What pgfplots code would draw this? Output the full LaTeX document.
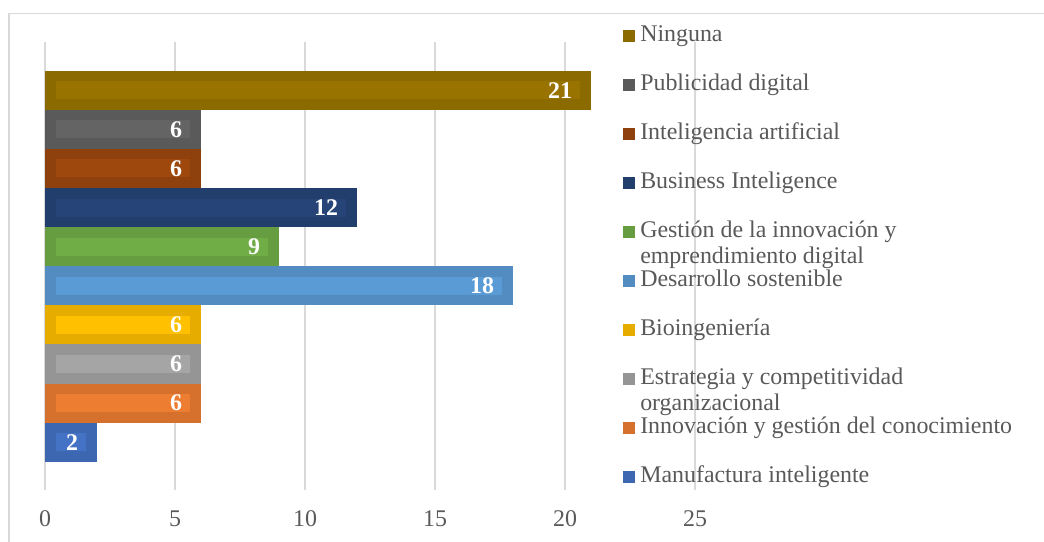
\documentclass[border=0pt]{standalone}
\usepackage{fontspec}
\setmainfont{Liberation Serif}
\usepackage{pgfplots}
\pgfplotsset{compat=1.18}

\definecolor{gridc}{HTML}{D9D9D9}
\definecolor{txt}{HTML}{595959}
\definecolor{oNin}{HTML}{8B6B00}\definecolor{iNin}{HTML}{997300}
\definecolor{oPub}{HTML}{5A5A5A}\definecolor{iPub}{HTML}{646464}
\definecolor{oInt}{HTML}{8F410D}\definecolor{iInt}{HTML}{9E480E}
\definecolor{oBus}{HTML}{223E6D}\definecolor{iBus}{HTML}{264478}
\definecolor{oGes}{HTML}{659D40}\definecolor{iGes}{HTML}{70AD47}
\definecolor{oDes}{HTML}{528CC1}\definecolor{iDes}{HTML}{5B9BD5}
\definecolor{oBio}{HTML}{E6AD00}\definecolor{iBio}{HTML}{FFC000}
\definecolor{oEst}{HTML}{959595}\definecolor{iEst}{HTML}{A5A5A5}
\definecolor{oInn}{HTML}{D5712C}\definecolor{iInn}{HTML}{ED7D31}
\definecolor{oMan}{HTML}{3D67B0}\definecolor{iMan}{HTML}{4472C4}

\pgfplotsset{
  mybar/.style={xbar, bar width=1, bar shift=0pt, draw=none, fill=#1,
    legend image code/.code={\fill[#1] (0bp,-3bp) rectangle (6bp,3bp);}},
  % lighter stripe inside each bar
  stripe/.style={draw=#1, line width=9bp, line cap=butt, shorten <=5.5bp, shorten >=5.5bp,
    mark=none, forget plot},
}

\begin{document}
\begin{tikzpicture}
\begin{axis}[
  at={(22.5bp,26bp)}, anchor=south west,
  scale only axis, width=325bp, height=224bp,
  xmin=0, xmax=25, ymin=-1.22, ymax=10.23,
  xtick={0,5,...,25}, ytick=\empty,
  xmajorgrids, grid style={draw=gridc, line width=0.75bp},
  axis line style={draw=none},
  major tick length=0pt,
  tick label style={font=\fontsize{12}{13}\selectfont, text=txt},
  xticklabel style={yshift=-7bp},
  /pgf/number format/assume math mode=true,
  legend cell align=left,
  legend style={at={(0.889,1.04)}, anchor=north west, draw=none, fill=none, inner sep=0pt,
    row sep=12.5bp, column sep=2.5bp,
    font=\fontsize{12}{13}\selectfont, text=txt,
    nodes={inner sep=0pt, text height=8.5bp, text depth=3.5bp}},
]
\addplot[mybar=oNin] coordinates {(21,9)};
\addlegendentry{Ninguna}
\addplot[stripe=iNin] coordinates {(0,9) (21,9)};
\addplot[mybar=oPub] coordinates {(6,8)};
\addlegendentry{Publicidad digital}
\addplot[stripe=iPub] coordinates {(0,8) (6,8)};
\addplot[mybar=oInt] coordinates {(6,7)};
\addlegendentry{Inteligencia artificial}
\addplot[stripe=iInt] coordinates {(0,7) (6,7)};
\addplot[mybar=oBus] coordinates {(12,6)};
\addlegendentry{Business Inteligence}
\addplot[stripe=iBus] coordinates {(0,6) (12,6)};
\addplot[mybar=oGes] coordinates {(9,5)};
\addlegendentry{\begin{tabular}[t]{@{}l@{}}Gestión de la innovación y\\emprendimiento digital\end{tabular}}
\addplot[stripe=iGes] coordinates {(0,5) (9,5)};
\addplot[mybar=oDes] coordinates {(18,4)};
\addlegendentry{Desarrollo sostenible}
\addplot[stripe=iDes] coordinates {(0,4) (18,4)};
\addplot[mybar=oBio] coordinates {(6,3)};
\addlegendentry{Bioingeniería}
\addplot[stripe=iBio] coordinates {(0,3) (6,3)};
\addplot[mybar=oEst] coordinates {(6,2)};
\addlegendentry{\begin{tabular}[t]{@{}l@{}}Estrategia y competitividad\\organizacional\end{tabular}}
\addplot[stripe=iEst] coordinates {(0,2) (6,2)};
\addplot[mybar=oInn] coordinates {(6,1)};
\addlegendentry{Innovación y gestión del conocimiento}
\addplot[stripe=iInn] coordinates {(0,1) (6,1)};
\addplot[mybar=oMan] coordinates {(2,0)};
\addlegendentry{Manufactura inteligente}
\addplot[stripe=iMan] coordinates {(0,0) (2,0)};
% value labels
\addplot[draw=none, mark=none, forget plot, point meta=x, nodes near coords,
  every node near coord/.append style={anchor=east, xshift=-6bp, font=\fontsize{12}{13}\selectfont\bfseries, text=white}]
  coordinates {(21,9) (6,8) (6,7) (12,6) (9,5) (18,4) (6,3) (6,2) (6,1) (2,0)};
\end{axis}
\draw[gridc, line width=0.75bp] (4.5bp,0bp) -- (4.5bp,264.25bp) -- (522bp,264.25bp);
\pgfresetboundingbox
\path (0bp,0bp) rectangle (522bp,271bp);
\end{tikzpicture}
\end{document}
